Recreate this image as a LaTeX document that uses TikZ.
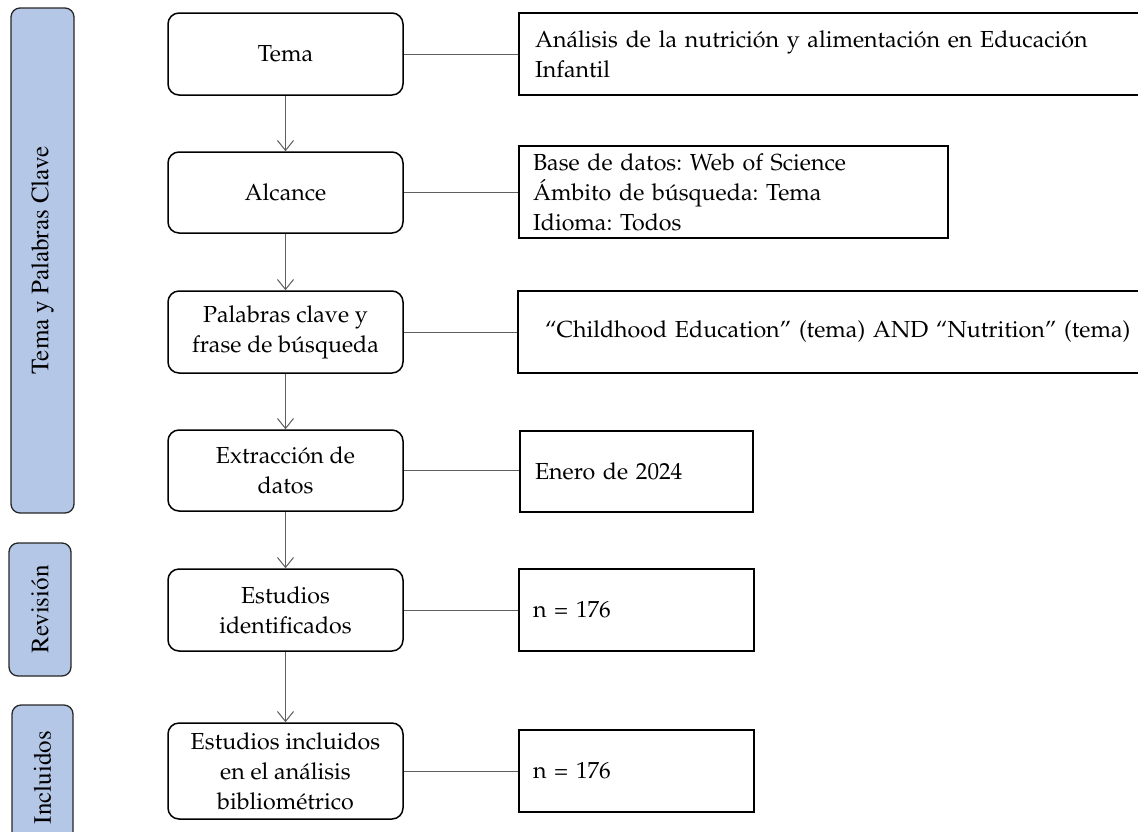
\documentclass[tikz,border=0pt]{standalone}
\IfFileExists{mathpazo.sty}{%
  \usepackage[T1]{fontenc}\usepackage{mathpazo}%
  \newcommand{\mainsize}{\fontsize{23.2}{30}\selectfont}%
  \newcommand{\sidesize}{\fontfamily{ptm}\fontsize{25}{30}\selectfont}%
}{%
  \usepackage{fontspec}\setmainfont{Liberation Serif}%
  \newcommand{\mainsize}{\fontsize{25.5}{30}\selectfont}%
  \newcommand{\sidesize}{\fontsize{25}{30}\selectfont}%
}
\frenchspacing
\usetikzlibrary{arrows.meta,calc}
\definecolor{sidefill}{HTML}{B4C7E7}
\definecolor{linegray}{HTML}{5F5F5F}
\tikzset{
  flowbox/.style={draw=black, line width=1.5pt, rounded corners=11pt, minimum width=235pt,
    align=center, font=\mainsize\frenchspacing, inner sep=2pt},
  infobox/.style={draw=black, line width=1.5pt, align=left, font=\mainsize\frenchspacing, inner ysep=2pt},
  sidebox/.style={draw=black!85, line width=1.3pt, fill=sidefill, rounded corners=9pt,
    rotate=90, font=\sidesize, inner sep=0pt},
  link/.style={draw=linegray, line width=1pt},
  flowarrow/.style={draw=linegray, line width=1pt, -{Straight Barb[length=10pt,width=16pt,line width=1pt]}}
}
\begin{document}
\begin{tikzpicture}[x=1pt,y=-1pt]
\useasboundingbox (0,0) rectangle (1138,831);

% side bars
\node[sidebox, minimum width=505pt, minimum height=63pt] (s1) at (42.5,260.5) {Tema y Palabras Clave};
\node[sidebox, minimum width=133pt, minimum height=62pt] (s2) at (40,609.5) {Revisi\'on};
\node[sidebox, minimum width=145pt, minimum height=61pt] (s3) at (42.5,777.5) {Incluidos};

% flow boxes
\node[flowbox, minimum height=82pt] (l1) at (285.5,54) {Tema};
\node[flowbox, minimum height=81pt] (l2) at (285.5,192.5) {Alcance};
\node[flowbox, minimum height=82pt] (l3) at (285.5,332) {Palabras clave y\\frase de b\'usqueda};
\node[flowbox, minimum height=81pt] (l4) at (285.5,470.5) {Extracci\'on de\\datos};
\node[flowbox, minimum height=82pt] (l5) at (285.5,610) {Estudios\\identificados};
\node[flowbox, minimum height=96pt] (l6) at (285.5,771) {Estudios incluidos\\en el an\'alisis\\bibliom\'etrico};

% info boxes
\node[infobox, minimum height=82pt, inner xsep=16pt, text width=594pt] (b1) at (832,54)
  {An\'alisis de la nutrici\'on y alimentaci\'on en Educaci\'on\\Infantil};
\node[infobox, minimum height=92pt, inner xsep=14pt, text width=401pt] (b2) at (733.5,192)
  {Base de datos: Web of Science\\\'Ambito de b\'usqueda: Tema\\Idioma: Todos};
\node[infobox, minimum height=82pt, inner xsep=27pt, text width=573pt] (b3) at (831.5,332)
  {\mbox{``Childhood Education'' (tema) AND ``Nutrition'' (tema)}};
\node[infobox, minimum height=81pt, inner xsep=15pt, text width=203pt] (b4) at (636.5,471.5)
  {Enero de 2024};
\node[infobox, minimum height=82pt, inner xsep=14pt, text width=207pt] (b5) at (636.5,610)
  {n = 176};
\node[infobox, minimum height=82pt, inner xsep=14pt, text width=207pt] (b6) at (636.5,771)
  {n = 176};

% arrows
\foreach \a/\b in {l1/l2,l2/l3,l3/l4,l4/l5,l5/l6}
  \draw[flowarrow] (\a.south) -- (\b.north);

% links
\foreach \a/\b in {l1/b1,l2/b2,l3/b3,l4/b4,l5/b5,l6/b6}
  \draw[link] (\a.east) -- (\a.east -| \b.west);
\end{tikzpicture}
\end{document}
